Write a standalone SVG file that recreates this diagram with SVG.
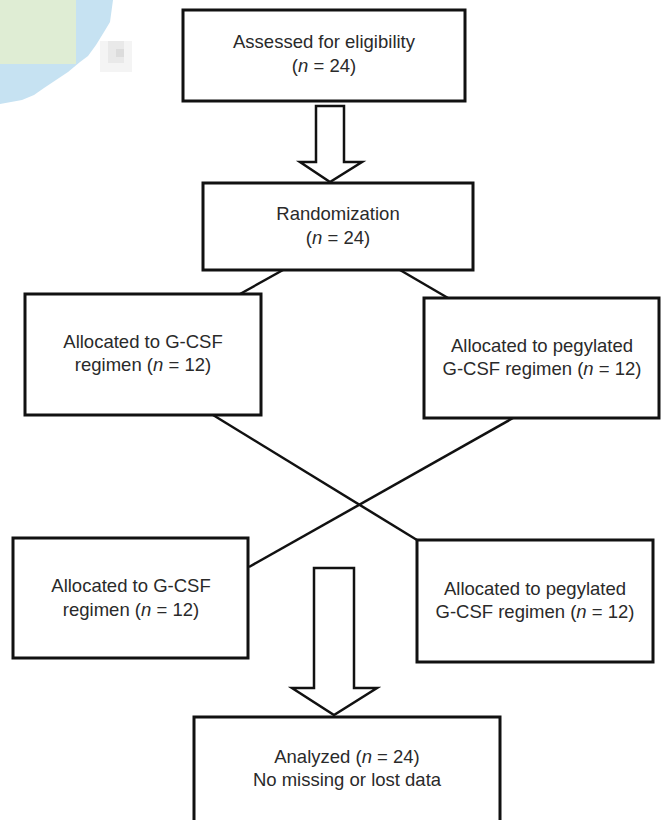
<svg xmlns="http://www.w3.org/2000/svg" width="661" height="820" viewBox="0 0 661 820">
<style>
.box{fill:#fff;stroke:#111;stroke-width:3}
.ln{fill:none;stroke:#111;stroke-width:2.5}
.arr{fill:#fff;stroke:#111;stroke-width:2.5;stroke-linejoin:miter}
text{font-family:"Liberation Sans",Arial,sans-serif;font-size:18.5px;fill:#2a2a2a;text-anchor:middle}
</style>
<rect width="661" height="820" fill="#fff"/>
<g id="artifact">
<polygon points="0,0 113,0 110,22 104,32 96,45 88,56 80,62 68,72 56,80 44,88 34,95 22,100 0,104" fill="#c6e2f2"/>
<rect x="0" y="0" width="76" height="64" fill="#dfedd4"/>
<rect x="100" y="41" width="32" height="31" fill="#f4f4f4"/>
<rect x="108" y="41" width="16" height="22" fill="#e9e9e9"/>
<rect x="116" y="49" width="8" height="8" fill="#dcdcdc"/>
</g>
<g id="connectors">
<line class="ln" x1="283" y1="270" x2="240" y2="294"/>
<line class="ln" x1="400" y1="270" x2="448" y2="298"/>
<line class="ln" x1="213" y1="415" x2="417" y2="540"/>
<line class="ln" x1="513" y1="418" x2="249" y2="567"/>
<polygon class="arr" points="316,106 344,106 344,162 362,162 330,182 300,162 316,162"/>
<polygon class="arr" points="314,568 354,568 354,688 377,688 334,715 292,688 314,688"/>
</g>
<g id="assessed">
<rect class="box" x="183" y="10" width="282" height="91"/>
<text x="324" y="48">Assessed for eligibility</text>
<text x="324" y="72">(<tspan font-style="italic">n</tspan> = 24)</text>
</g>
<g id="randomization">
<rect class="box" x="203" y="183" width="270" height="87"/>
<text x="338" y="220">Randomization</text>
<text x="338" y="244">(<tspan font-style="italic">n</tspan> = 24)</text>
</g>
<g id="gcsf1">
<rect class="box" x="25" y="294" width="236" height="121"/>
<text x="143" y="348">Allocated to G-CSF</text>
<text x="143" y="371">regimen (<tspan font-style="italic">n</tspan> = 12)</text>
</g>
<g id="peg1">
<rect class="box" x="424" y="298" width="235" height="120"/>
<text x="542" y="352">Allocated to pegylated</text>
<text x="542" y="375">G-CSF regimen (<tspan font-style="italic">n</tspan> = 12)</text>
</g>
<g id="gcsf2">
<rect class="box" x="13" y="538" width="235" height="120"/>
<text x="131" y="592">Allocated to G-CSF</text>
<text x="131" y="616">regimen (<tspan font-style="italic">n</tspan> = 12)</text>
</g>
<g id="peg2">
<rect class="box" x="417" y="540" width="236" height="122"/>
<text x="535" y="595">Allocated to pegylated</text>
<text x="535" y="618">G-CSF regimen (<tspan font-style="italic">n</tspan> = 12)</text>
</g>
<g id="analyzed">
<rect class="box" x="194" y="717" width="306" height="120"/>
<text x="347" y="763">Analyzed (<tspan font-style="italic">n</tspan> = 24)</text>
<text x="347" y="786">No missing or lost data</text>
</g>
</svg>
